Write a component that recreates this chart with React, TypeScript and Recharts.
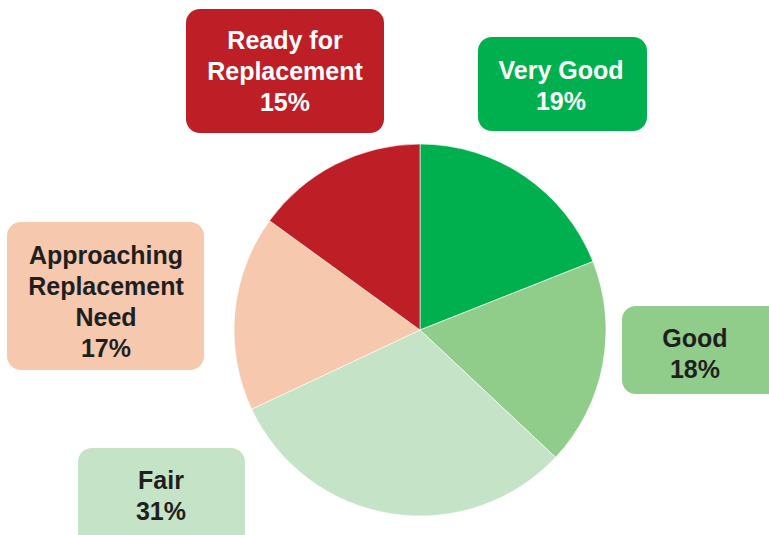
import React from "react";
import { PieChart, Pie, Cell } from "recharts";

const categories = ["Very Good", "Good", "Fair", "Approaching Replacement Need", "Ready for Replacement"];
const shares = [19, 18, 31, 17, 15];
const labelLines = [
  ["Very Good"],
  ["Good"],
  ["Fair"],
  ["Approaching", "Replacement", "Need"],
  ["Ready for", "Replacement"],
];

const colors = ["#00B04F", "#90CC8A", "#C5E3C6", "#F6C8AE", "#BE1F27"];
const textColors = ["#ffffff", "#1f1f1f", "#1f1f1f", "#1f1f1f", "#ffffff"];

// callout boxes, placed by hand like in the original slide
const boxes = [
  { x: 478, y: 37, w: 169, h: 94, tx: 561, ty: 85 },
  { x: 622, y: 306, w: 160, h: 88, tx: 695, ty: 353 },
  { x: 78, y: 448, w: 167, h: 110, tx: 161, ty: 495 },
  { x: 7, y: 222, w: 197, h: 148, tx: 106, ty: 301 },
  { x: 186, y: 9, w: 198, h: 124, tx: 285, ty: 71 },
];

const data = categories.map((name, i) => ({ name, value: shares[i] }));

const LINE_H = 31;

function CalloutLabel(props: any) {
  const i = props.index;
  const b = boxes[i];
  const lines = [...labelLines[i], `${shares[i]}%`];
  const top = b.ty - ((lines.length - 1) * LINE_H) / 2;
  return (
    <g>
      <rect x={b.x} y={b.y} width={b.w} height={b.h} rx={14} ry={14} fill={colors[i]} />
      {lines.map((t, k) => (
        <text
          key={k}
          x={b.tx}
          y={top + k * LINE_H}
          textAnchor="middle"
          dominantBaseline="central"
          fill={textColors[i]}
          fontFamily="'Liberation Sans', Arial, sans-serif"
          fontWeight="bold"
          fontSize={25}
        >
          {t}
        </text>
      ))}
    </g>
  );
}

export default function App() {
  return (
    <div style={{ position: "absolute", left: 0, top: 0, width: 769, height: 535, background: "#fff" }}>
      <PieChart width={769} height={535} margin={{ top: 0, right: 0, bottom: 0, left: 0 }}>
        <Pie
          data={data}
          dataKey="value"
          nameKey="name"
          cx={420}
          cy={330}
          outerRadius={186}
          startAngle={90}
          endAngle={-270}
          stroke="#ffffff"
          strokeWidth={0.6}
          labelLine={false}
          label={CalloutLabel}
          isAnimationActive={false}
        >
          {data.map((d, i) => (
            <Cell key={d.name} fill={colors[i]} />
          ))}
        </Pie>
      </PieChart>
    </div>
  );
}
